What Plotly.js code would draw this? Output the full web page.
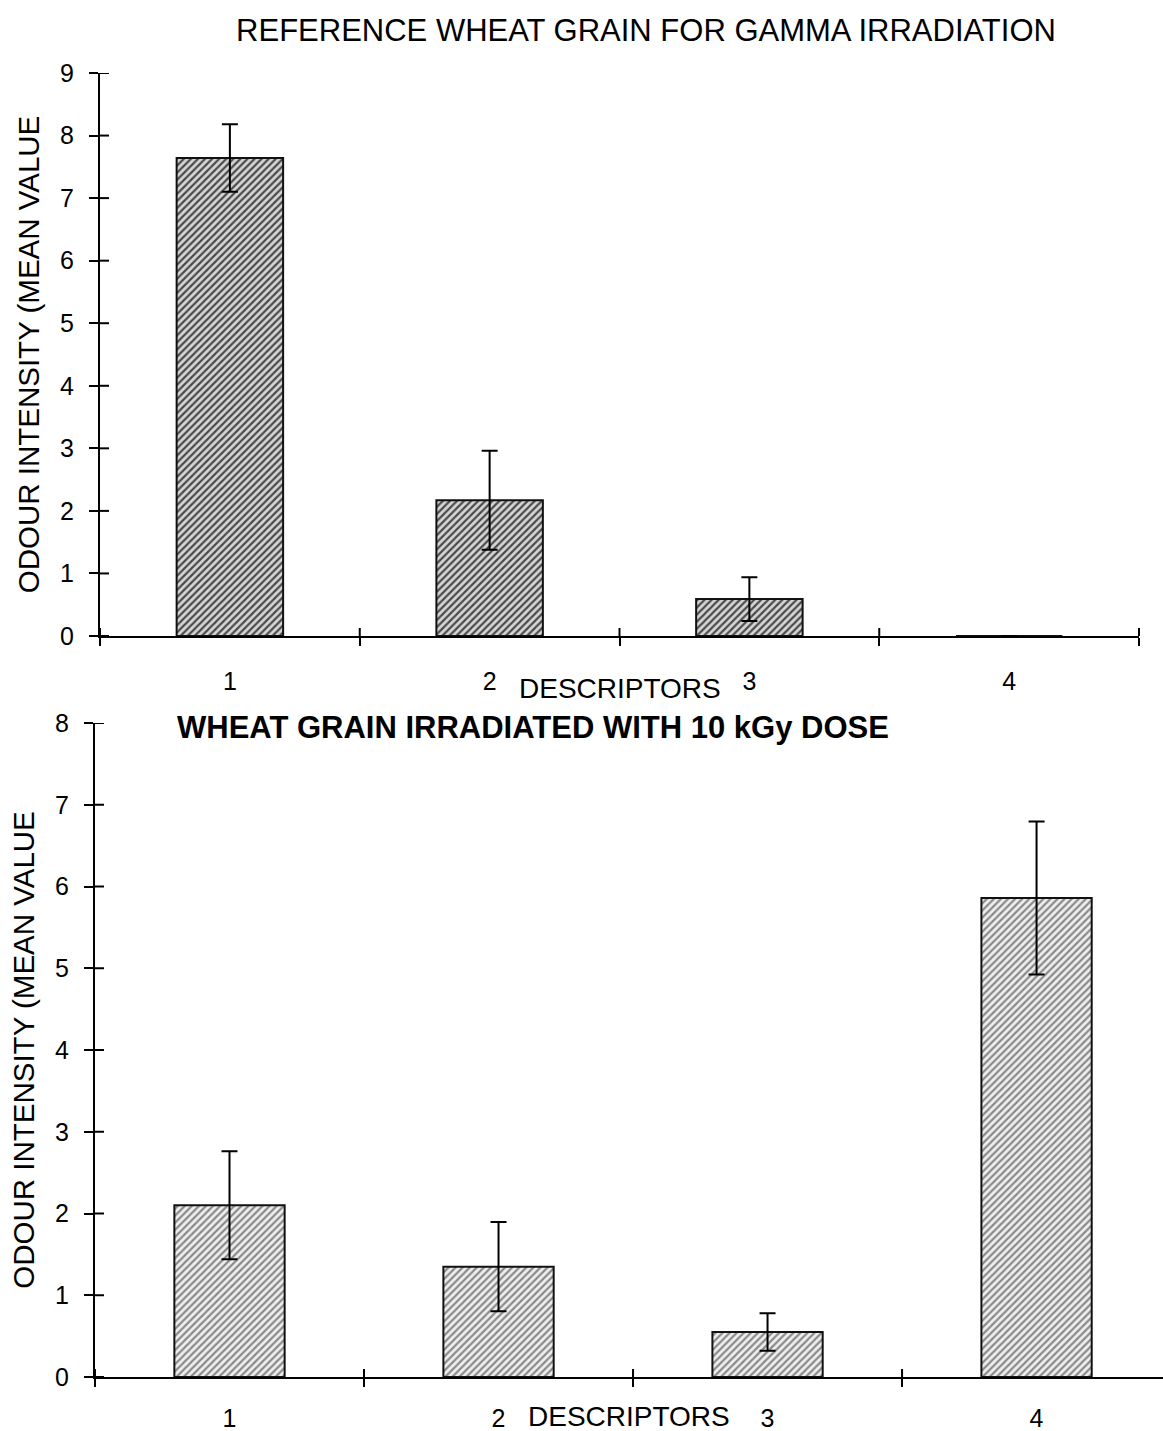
<!DOCTYPE html>
<html><head><meta charset="utf-8">
<script src="https://cdn.plot.ly/plotly-3.0.1.min.js"></script>
<style>html,body{margin:0;padding:0;background:#fff}#chart{width:1163px;height:1431px}</style>
</head><body><div id="chart"></div>
<script>
// ---- data ----
const descriptors = ['1', '2', '3', '4'];
const refTitle = 'REFERENCE WHEAT GRAIN FOR GAMMA IRRADIATION';
const doseTitle = 'WHEAT GRAIN IRRADIATED WITH 10 kGy DOSE';
const xTitle = 'DESCRIPTORS';
const yTitle = 'ODOUR INTENSITY (MEAN VALUE';
const refMeans = [7.64, 2.17, 0.59, 0];
const refErrors = [0.54, 0.79, 0.35, 0];
const doseMeans = [2.10, 1.35, 0.55, 5.86];
const doseErrors = [0.66, 0.545, 0.23, 0.935];
const refYTicks = [0, 1, 2, 3, 4, 5, 6, 7, 8, 9];
const doseYTicks = [0, 1, 2, 3, 4, 5, 6, 7, 8];
const boundaries = [-0.5, 0.5, 1.5, 2.5, 3.5];

const FONT = 'Liberation Sans, Arial, sans-serif';
const W = 1163, H = 1431;
const px = v => v / W, py = v => 1 - v / H;

function barTrace(y, err, xa, ya, fg, bg) {
  return {
    type: 'bar', x: descriptors, y: y, xaxis: xa, yaxis: ya, width: 0.41,
    marker: {color: bg, line: {color: '#111', width: 2},
      pattern: {shape: '/', fgcolor: fg, bgcolor: bg, size: 5, solidity: 0.45, fillmode: 'replace'}},
    error_y: {type: 'data', array: err, visible: true, color: '#000', thickness: 2, width: 8},
    hoverinfo: 'x+y', showlegend: false
  };
}

const data = [
  barTrace(refMeans, refErrors, 'x', 'y', '#4a4a4a', '#d6d6d6'),
  barTrace(doseMeans, doseErrors, 'x2', 'y2', '#8a8a8a', '#efefef')
];

const tickFont = {family: FONT, size: 25, color: '#000'};
function catAxis(domain, anchor, range, standoff) {
  return {domain: domain, anchor: anchor, type: 'category', range: range, tickson: 'boundaries',
    ticks: 'outside', ticklen: 8, tickwidth: 2, tickcolor: '#000', showline: true, linecolor: '#000',
    linewidth: 2, showgrid: false, zeroline: false, tickfont: tickFont, ticklabelstandoff: standoff,
    automargin: false, fixedrange: true};
}
function valAxis(domain, anchor, range, vals) {
  return {domain: domain, anchor: anchor, range: range, tickmode: 'array', tickvals: vals,
    ticks: 'outside', ticklen: 9, tickwidth: 2, tickcolor: '#000', showline: true, linecolor: '#000',
    linewidth: 2, showgrid: false, zeroline: false, tickfont: tickFont, ticklabelstandoff: 10,
    title: {text: yTitle, font: {family: FONT, size: 29.5, color: '#000'}, standoff: 12},
    automargin: false, fixedrange: true};
}

const topX = [px(100), px(1139)], botX = [px(95), 1];
const topY = [py(636), py(73)], botY = [py(1377), py(723)];
const topRange = [-0.5, 3.5], botRange = [-0.5, 3.47];

// inner half of the crossing tick marks (the outer half is drawn by the axes)
function innerTicks(xa, ya, xDomain, yDomain, xRange, yVals) {
  const wPx = (xDomain[1] - xDomain[0]) * W, hPx = (yDomain[1] - yDomain[0]) * H;
  const line = {color: '#000', width: 2};
  const s = [];
  yVals.forEach(v => s.push({type: 'line', xref: xa + ' domain', yref: ya, x0: 0, x1: 9 / wPx, y0: v, y1: v, line: line}));
  boundaries.forEach(b => {
    const f = (b - xRange[0]) / (xRange[1] - xRange[0]);
    if (f >= 0 && f <= 1) s.push({type: 'line', xref: xa + ' domain', yref: ya + ' domain', x0: f, x1: f, y0: 0, y1: 8 / hPx, line: line});
  });
  return s;
}

const layout = {
  width: W, height: H, margin: {l: 0, r: 0, t: 0, b: 0}, paper_bgcolor: '#fff', plot_bgcolor: '#fff',
  font: {family: FONT, color: '#000'}, showlegend: false,
  title: {text: refTitle, font: {family: FONT, size: 31, color: '#000'}, x: px(646), xanchor: 'center',
    y: py(30), yanchor: 'middle', xref: 'paper', yref: 'container'},
  xaxis: catAxis(topX, 'y', topRange, 22),
  yaxis: valAxis(topY, 'x', [0, 9], refYTicks),
  xaxis2: catAxis(botX, 'y2', botRange, 18),
  yaxis2: valAxis(botY, 'x2', [0, 8], doseYTicks),
  shapes: innerTicks('x', 'y', topX, topY, topRange, refYTicks)
    .concat(innerTicks('x2', 'y2', botX, botY, botRange, doseYTicks)),
  annotations: [
    {text: xTitle, xref: 'x domain', yref: 'y domain', x: 0.5, y: 0, yshift: -52, xanchor: 'center',
      yanchor: 'middle', showarrow: false, font: {family: FONT, size: 28, color: '#000'}},
    {text: xTitle, xref: 'x2 domain', yref: 'y2 domain', x: 0.5, y: 0, yshift: -39, xanchor: 'center',
      yanchor: 'middle', showarrow: false, font: {family: FONT, size: 28, color: '#000'}},
    {text: '<b>' + doseTitle + '</b>', xref: 'paper', yref: 'paper', x: px(533), y: py(727),
      xanchor: 'center', yanchor: 'middle', showarrow: false, font: {family: FONT, size: 31, color: '#000'}}
  ]
};

Plotly.newPlot('chart', data, layout, {staticPlot: true, displayModeBar: false});
</script></body></html>
